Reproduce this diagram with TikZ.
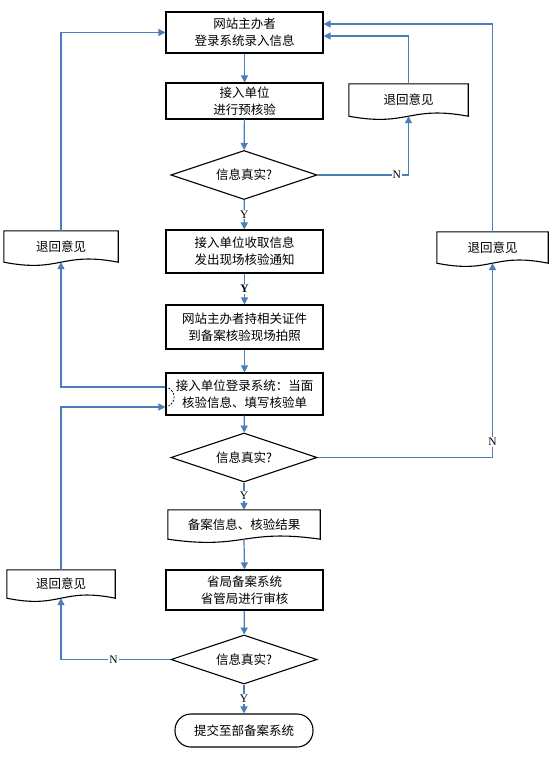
\documentclass[tikz,border=0pt]{standalone}
\usepackage{fontspec}
\setmainfont{Liberation Serif}
\newfontfamily\cjk{Noto Sans CJK SC}
\usetikzlibrary{shapes.geometric,arrows.meta,calc}
\definecolor{connc}{RGB}{74,126,187}
\newcommand\docoutline[2]{\draw[line width=1.1pt] (#1.south west) -- (#1.north west) -- (#1.north east) -- (#1.south east) .. controls +(-#2,-11) and +(#2,11) .. (#1.south west) -- cycle;}
\begin{document}
\begin{tikzpicture}[x=1pt,y=-1pt,
  cjkf/.style={font=\cjk\fontsize{12.5}{17}\selectfont},
  box/.style={draw, line width=1.1pt, rectangle, minimum width=157pt, align=center, cjkf, inner sep=0pt},
  dia/.style={draw, line width=1.1pt, diamond, shape aspect=3, minimum width=146pt, minimum height=49pt, inner sep=0pt, cjkf},
  docnode/.style={rectangle, inner sep=0pt, align=center, cjkf},
  term/.style={draw, line width=1.1pt, rectangle, rounded corners=16pt, minimum width=138pt, minimum height=33pt, inner sep=0pt, cjkf},
  conn/.style={draw=connc, line width=1.2pt, -{Triangle[width=7pt,length=7pt]}},
  yn/.style={fill=white, inner sep=1pt, font=\fontsize{11.5}{12}\selectfont}
]
\fill[white] (0,0) rectangle (556,768);
\useasboundingbox (0,0) rectangle (556,768);

% main column
\node[box, minimum height=41pt] (b1) at (244.5,32.5) {网站主办者\\登录系统录入信息};
\node[box, minimum height=36pt] (b2) at (244.5,101) {接入单位\\进行预核验};
\node[dia] (d1) at (244,175) {信息真实?};
\node[box, minimum height=43pt] (b3) at (244.5,251.5) {接入单位收取信息\\发出现场核验通知};
\node[box, minimum height=44pt] (b4) at (244.5,327) {网站主办者持相关证件\\到备案核验现场拍照};
\node[box, minimum height=42pt] (b5) at (244.5,394) {接入单位登录系统：当面\\核验信息、填写核验单};
\node[dia] (d2) at (244,457.5) {信息真实?};
\node[docnode, minimum width=152pt, minimum height=29pt] (b6) at (244,524.5) {备案信息、核验结果};
\docoutline{b6}{76}
\node[box, minimum height=40pt] (b7) at (244.5,590) {省局备案系统\\省管局进行审核};
\node[dia] (d3) at (244,659.5) {信息真实?};
\node[term] (t) at (244,730.5) {提交至部备案系统};

% side documents
\node[docnode, minimum width=119pt, minimum height=32pt] (r1) at (408.5,100) {退回意见};
\docoutline{r1}{59.5}
\node[docnode, minimum width=111pt, minimum height=31pt] (r2) at (492.5,247.5) {退回意见};
\docoutline{r2}{55.5}
\node[docnode, minimum width=114pt, minimum height=31pt] (l1) at (61,246.5) {退回意见};
\docoutline{l1}{57}
\node[docnode, minimum width=108pt, minimum height=28pt] (l2) at (61,584) {退回意见};
\docoutline{l2}{54}

% small dashed mark in b5
\draw[line width=0.8pt, dash pattern=on 2pt off 1.5pt] (168.5,388) .. controls (176,392) and (176,402) .. (168.5,406);

% main flow
\draw[conn] (b1) -- (b2);
\draw[conn] (b2) -- (d1);
\draw[conn] (d1) -- node[yn]{Y} (b3);
\draw[conn] (b3) -- node[yn, font=\bfseries\fontsize{11.5}{12}\selectfont]{Y} (b4);
\draw[conn] (b4) -- (b5);
\draw[conn] (b5) -- (d2);
\draw[conn] (d2) -- node[yn]{Y} (b6);
\draw[conn] (b6.south) -- (b7.north);
\draw[conn] (b7) -- (d3);
\draw[conn] (d3) -- node[yn]{Y} (t);

% return loops
\draw[conn] (d1.east) -| node[yn, pos=0.435]{N} (r1.south);
\draw[conn] (r1.north) |- ($(b1.east)+(0,3.5)$);
\draw[conn] (d2.east) -| node[yn, pos=0.54]{N} (r2.south);
\draw[conn] (r2.north) |- ($(b1.east)+(0,-8.5)$);
\draw[conn] ($(b5.west)+(0,-7)$) -| (l1.south);
\draw[conn] (l1.north) |- (b1.west);
\draw[conn] (d3.west) -| node[yn, pos=0.26]{N} (l2.south);
\draw[conn] (l2.north) |- ($(b5.west)+(0,13)$);
\end{tikzpicture}
\end{document}
